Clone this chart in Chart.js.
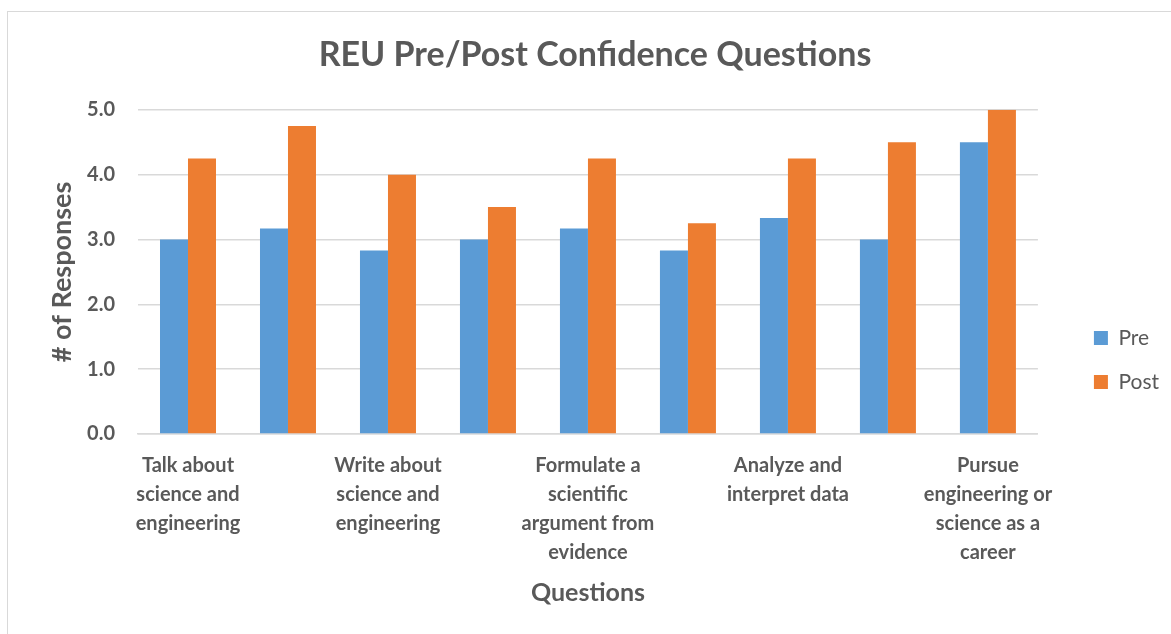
<!DOCTYPE html>
<html>
<head>
<meta charset="utf-8">
<script src="https://cdn.jsdelivr.net/npm/chart.js@4.4.1/dist/chart.umd.min.js"></script>
<style>
  html, body { margin: 0; padding: 0; background: #fff; overflow: hidden; width: 1171px; height: 634px; }
  #frame { position: absolute; left: 7px; top: 11px; width: 1200px; height: 700px; border: 1px solid #d9d9d9; }
  #chart { position: absolute; left: 8px; top: 12px; }
</style>
</head>
<body>
<div id="frame"></div>
<canvas id="chart" width="1161" height="681"></canvas>
<script>
// only every other question is labelled in the original chart
const categories = [
    ['Talk about', 'science and', 'engineering'],
    '',
    ['Write about', 'science and', 'engineering'],
    '',
    ['Formulate a', 'scientific', 'argument from', 'evidence'],
    '',
    ['Analyze and', 'interpret data'],
    '',
    ['Pursue', 'engineering or', 'science as a', 'career']
];
const preValues = [3.0, 3.17, 2.83, 3.0, 3.17, 2.83, 3.33, 3.0, 4.5];
const postValues = [4.25, 4.75, 4.0, 3.5, 4.25, 3.25, 4.25, 4.5, 5.0];
const yMin = 0;
const yMax = 5;
const yStep = 1;

const textColor = '#595959';
const gridColor = '#d9d9d9';

Chart.defaults.font.family = 'Lato, "Open Sans", sans-serif';

new Chart(document.getElementById('chart'), {
    type: 'bar',
    data: {
        labels: categories,
        datasets: [{
            label: 'Pre',
            data: preValues,
            backgroundColor: '#5B9BD5',
            categoryPercentage: 0.56,
            barPercentage: 1
        }, {
            label: 'Post',
            data: postValues,
            backgroundColor: '#ED7D31',
            categoryPercentage: 0.56,
            barPercentage: 1
        }]
    },
    options: {
        responsive: false,
        animation: false,
        layout: { padding: { left: 13, right: 0, top: 15, bottom: 0 } },
        plugins: {
            title: {
                display: true,
                text: 'REU Pre/Post Confidence Questions',
                color: textColor,
                font: { size: 34, weight: 'bold' },
                padding: { top: 8, bottom: 34 }
            },
            legend: {
                position: 'right',
                labels: { color: textColor, font: { size: 21 }, boxWidth: 14, boxHeight: 14, padding: 23 }
            },
            tooltip: { enabled: false }
        },
        scales: {
            x: {
                grid: { display: false, drawTicks: false },
                border: { color: gridColor, width: 1.5 },
                ticks: {
                    color: textColor,
                    font: { size: 20, weight: 'bold', lineHeight: 1.45 },
                    padding: 17,
                    autoSkip: false,
                    maxRotation: 0,
                    minRotation: 0
                },
                title: {
                    display: true,
                    text: 'Questions',
                    color: textColor,
                    font: { size: 25, weight: 'bold' },
                    padding: { top: -6, bottom: 85 }
                }
            },
            y: {
                min: yMin,
                max: yMax,
                afterFit: s => { s.width = 117; },
                grid: { color: gridColor, lineWidth: 1.5, drawTicks: false },
                border: { display: false },
                ticks: {
                    stepSize: yStep,
                    color: textColor,
                    font: { size: 20, weight: 'bold' },
                    padding: 23,
                    callback: v => v.toFixed(1)
                },
                title: {
                    display: true,
                    text: '# of Responses',
                    color: textColor,
                    font: { size: 27, weight: 'bold' },
                    padding: { top: 25, bottom: 0 }
                }
            },
            // empty gap between plot and legend
            gap: {
                type: 'linear',
                position: 'right',
                afterFit: s => { s.width = 33; },
                grid: { display: false },
                border: { display: false },
                ticks: { display: false }
            }
        }
    }
});
</script>
</body>
</html>
